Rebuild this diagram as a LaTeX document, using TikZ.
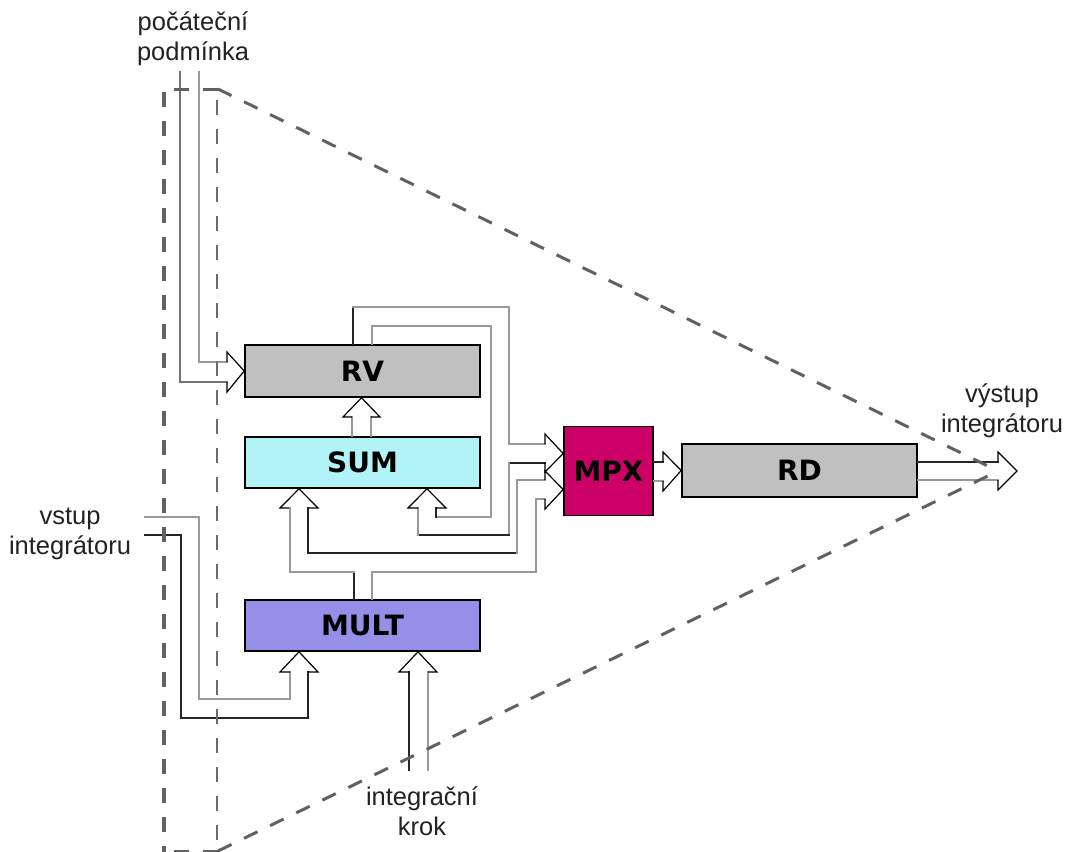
\documentclass[tikz,border=0pt]{standalone}
\usepackage{fontspec}
\setmainfont{Liberation Sans}
\newfontfamily\boxfont{DejaVu Sans}
\definecolor{rvgray}{HTML}{C0C0C0}
\definecolor{sumc}{HTML}{B0F4F8}
\definecolor{multc}{HTML}{9490E8}
\definecolor{mpxc}{HTML}{CC0066}
\definecolor{txtc}{HTML}{222222}
\begin{document}
\begin{tikzpicture}[x=1pt,y=-1pt,
  box/.style={draw=black,line width=1.6pt,minimum width=235pt,minimum height=52pt,inner sep=0pt,font=\boxfont\bfseries\fontsize{28}{30}\selectfont},
  lbl/.style={align=center,text=txtc,font=\fontsize{25.5}{30}\selectfont,inner sep=0pt},
  dk/.style={draw=black!85,line width=1.7pt,line cap=rect},
  lt/.style={draw=black!40,line width=1.9pt,line cap=rect},
  hd/.style={draw=black,line width=1.2pt,line join=miter},
  dsh/.style={draw=black!62,dash pattern=on 15pt off 14pt}
]
\useasboundingbox (0,0) rectangle (1072,852);

% boxes
\node[box,fill=rvgray] (RV) at (362.5,371) {RV};
\node[box,fill=sumc,minimum height=51pt] (SUM) at (362.5,462.5) {SUM};
\node[box,fill=multc,minimum height=51pt] (MULT) at (362.5,625.5) {MULT};
\node[box,fill=mpxc,minimum width=89pt,minimum height=89pt] (MPX) at (608.5,471) {MPX};
\node[box,fill=rvgray,minimum height=53pt] (RD) at (799.5,470.5) {RD};

% labels
\node[lbl] (pp) at (193,39) {počáteční\\podmínka};
\node[lbl] (vi) at (70,534) {vstup\\integrátoru};
\node[lbl] (vy) at (1002,411) {výstup\\integrátoru};
\node[lbl] (ik) at (422,811) {integrační\\krok};

% initial condition
\draw[lt,draw=black!55] (180,72) -- (180,382) -- (227,382);
\draw[lt] (199,72) -- (199,362) -- (227,362);
\draw[hd] (227,362) -- (227,352) -- (RV.west) -- (227,392) -- (227,382);

% RV output pipe (to MPX and back to SUM)
\draw[dk] (353,0 |- RV.north) -- (353,307);
\draw[lt] (353,307) -- (509,307) -- (509,444) -- (545,444);
\draw[dk] (545,463) -- (509,463);
\draw[lt] (509,463) -- (509,535);
\draw[dk] (509,535) -- (418,535);
\draw[lt] (418,535) -- (418,508);
\draw[lt] (372,0 |- RV.north) -- (372,326) -- (491,326) -- (491,517) -- (436,517);
\draw[dk] (436,517) -- (436,508);

% SUM input arrowheads
\draw[hd] (418,508) -- (408,508) -- (SUM.south -| 427,0) -- (446,508) -- (436,508);
\draw[hd] (290,508) -- (280,508) -- (SUM.south -| 299,0) -- (318,508) -- (308,508);

% MULT output pipe
\draw[dk] (354,0 |- MULT.north) -- (354,572);
\draw[lt] (354,572) -- (290,572) -- (290,508);
\draw[lt] (372,0 |- MULT.north) -- (372,572) -- (536,572) -- (536,499) -- (545,499);
\draw[dk] (308,508) -- (308,553) -- (517,553);
\draw[lt] (517,553) -- (517,480) -- (545,480);

% MPX input arrowheads
\draw[hd] (545,444) -- (545,434) -- (MPX.west |- 0,453.5) -- (545,472) -- (545,463);
\draw[hd] (545,480) -- (545,471) -- (MPX.west |- 0,489.5) -- (545,509) -- (545,499);

% SUM -> RV
\draw[lt] (352,0 |- SUM.north) -- (352,417);
\draw[lt] (371,0 |- SUM.north) -- (371,417);
\draw[hd] (352,417) -- (343,417) -- (RV.south -| 361.5,0) -- (380,417) -- (371,417);

% MPX -> RD
\draw[dk] (MPX.east |- 0,462) -- (663,462);
\draw[lt] (MPX.east |- 0,481) -- (663,481);
\draw[hd] (663,462) -- (663,452) -- (RD.west) -- (663,491) -- (663,481);

% RD -> output
\coordinate (out) at (1017,471);
\draw[dk] (RD.east |- 0,462) -- (998,462);
\draw[lt] (RD.east |- 0,480) -- (998,480);
\draw[hd] (998,462) -- (998,452) -- (out) -- (998,490) -- (998,480);

% integrator input
\draw[lt] (145,517) -- (199,517) -- (199,699) -- (290,699) -- (290,672);
\draw[dk] (145,535) -- (181,535) -- (181,718) -- (308,718) -- (308,672);
\draw[hd] (290,672) -- (280,672) -- (MULT.south -| 299,0) -- (318,672) -- (308,672);

% integration step
\draw[dk] (409,770) -- (409,672);
\draw[lt] (428,770) -- (428,672);
\draw[hd] (409,672) -- (399,672) -- (MULT.south -| 418,0) -- (437,672) -- (428,672);

% dashed outline
\draw[dsh,line width=3.5pt] (164,92) -- (164,852);
\draw[dsh,line width=2.8pt,draw=black!58] (217,100) -- (217,852);
\draw[dsh,line width=3pt] (218,89) -- (164,89);
\draw[dsh,line width=3pt] (218,89) -- (998,471);
\draw[dsh,line width=3pt] (218,851) -- (998,471);
\draw[dsh,line width=3pt] (218,851) -- (164,851);
\end{tikzpicture}
\end{document}
